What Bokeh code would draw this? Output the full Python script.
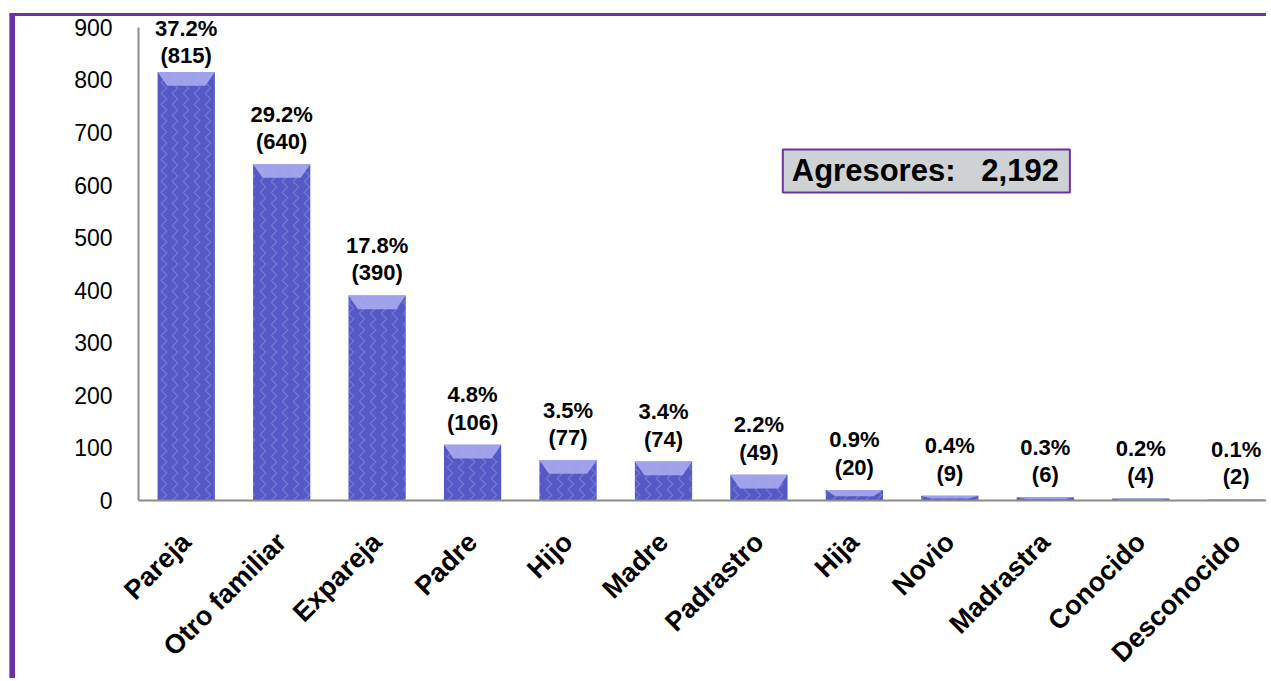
from bokeh.plotting import figure
from bokeh.models import Range1d, ColumnDataSource, Label, FixedTicker
from bokeh.core.properties import value
from bokeh.embed import file_html
from bokeh.resources import INLINE
import math

categories = ["Pareja", "Otro familiar", "Expareja", "Padre", "Hijo", "Madre",
              "Padrastro", "Hija", "Novio", "Madrastra", "Conocido", "Desconocido"]
counts = [815, 640, 390, 106, 77, 74, 49, 20, 9, 6, 4, 2]
percents = ["37.2%", "29.2%", "17.8%", "4.8%", "3.5%", "3.4%", "2.2%", "0.9%",
            "0.4%", "0.3%", "0.2%", "0.1%"]
total_label = "Agresores:\u00a0\u00a0\u00a02,192"
y_ticks = [0, 100, 200, 300, 400, 500, 600, 700, 800, 900]

idx = list(range(len(categories)))
BAR_W = 0.6
CAP = 26
INSET = 0.1
Y_MAX = 920.75
PX_PER_UNIT = 0.53

# label offset: normal gap, reduced only where the label would hit the top edge
yoff = [-max(3, min(10, (Y_MAX - c) * PX_PER_UNIT - 52)) for c in counts]

src = ColumnDataSource(dict(
    x=idx, top=counts, yoff=yoff,
    label=[f"{p}\n({c})" for p, c in zip(percents, counts)],
))

cap_xs, cap_ys = [], []
for i, c in zip(idx, counts):
    h = min(CAP, c * 0.6)
    cap_xs.append([i - BAR_W / 2, i + BAR_W / 2, i + BAR_W / 2 - INSET, i - BAR_W / 2 + INSET])
    cap_ys.append([c, c, c - h, c - h])

p = figure(width=1256, height=665, output_backend="svg", toolbar_location=None,
           x_range=Range1d(-0.5, 11.37), y_range=Range1d(0, Y_MAX),
           min_border_left=123, min_border_right=0, min_border_top=0, min_border_bottom=177)
p.styles = {
    "margin-left": "10px",
    "margin-top": "13px",
    "border-left": "5px solid #7030A0",
    "border-top": "3px solid #7030A0",
    "box-shadow": "-1px 0 0 0 #3BB3A0",
}
p.outline_line_color = None
p.grid.visible = False
p.background_fill_color = "white"
p.border_fill_color = "white"

p.vbar(x="x", top="top", width=BAR_W, bottom=0, source=src,
       fill_color="#5559C6", line_color=None,
       hatch_pattern="vertical_wave", hatch_color="#B8BAF0", hatch_alpha=0.3,
       hatch_scale=11, hatch_weight=1.2)
p.patches(cap_xs, cap_ys, fill_color="#A7AAEE", fill_alpha=0.9, line_color=None)

p.text(x="x", y="top", text="label", source=src, text_align="center",
       text_baseline="bottom", y_offset="yoff", text_font=value("Liberation Sans"),
       text_font_style="bold", text_font_size="22px", text_line_height=1.1,
       text_color="black")

# y axis
p.yaxis.ticker = FixedTicker(ticks=y_ticks)
p.yaxis.bounds = (0, 900)
p.yaxis.axis_line_color = "#8C8C8C"
p.yaxis.axis_line_width = 2
p.yaxis.major_tick_line_color = None
p.yaxis.minor_tick_line_color = None
p.yaxis.major_label_standoff = 20
p.yaxis.major_label_text_font = "Liberation Sans"
p.yaxis.major_label_text_font_size = "23px"
p.yaxis.major_label_text_color = "black"

# x axis
p.xaxis.ticker = FixedTicker(ticks=idx)
p.xaxis.major_label_overrides = {i: c for i, c in zip(idx, categories)}
p.xaxis.major_label_orientation = math.pi / 4
p.xaxis.axis_line_color = "#8C8C8C"
p.xaxis.axis_line_width = 2
p.xaxis.major_tick_line_color = None
p.xaxis.minor_tick_line_color = None
p.xaxis.major_label_standoff = 31
p.xaxis.major_label_text_font = "Liberation Sans"
p.xaxis.major_label_text_font_style = "bold"
p.xaxis.major_label_text_font_size = "27px"
p.xaxis.major_label_text_color = "black"

# total box
p.add_layout(Label(x=6.25, y=627, text=total_label, text_align="left",
                   text_baseline="middle", text_font="Liberation Sans",
                   text_font_style="bold", text_font_size="31px", text_color="black",
                   background_fill_color="#CED2D4", border_line_color="#7030A0",
                   border_line_width=2,
                   padding=dict(left=9, right=11, top=4, bottom=4)))

open("out.html", "w").write(file_html(p, INLINE))
